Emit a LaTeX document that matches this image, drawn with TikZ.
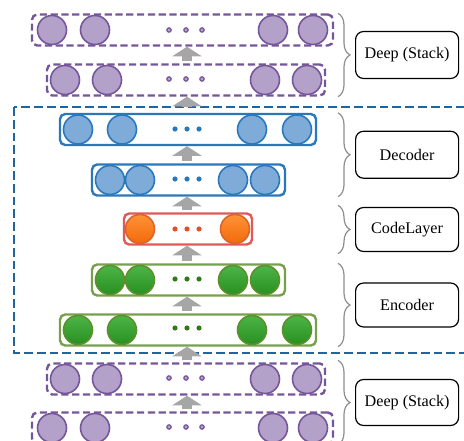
\documentclass[tikz,border=0pt]{standalone}
\usepackage{fontspec}
\setmainfont{Liberation Serif}
\usetikzlibrary{arrows.meta,positioning,decorations.pathreplacing}

\definecolor{purpfill}{HTML}{B3A1C9}
\definecolor{purpline}{HTML}{76569A}
\definecolor{blufill}{HTML}{7FABD8}
\definecolor{bluline}{HTML}{2A78BC}
\definecolor{frameblue}{HTML}{22649E}
\definecolor{orgtop}{HTML}{FF9236}
\definecolor{orgbot}{HTML}{F26A0C}
\definecolor{orgline}{HTML}{D8652E}
\definecolor{codered}{HTML}{E05858}
\definecolor{grntop}{HTML}{4DB548}
\definecolor{grnbot}{HTML}{27901F}
\definecolor{grnline}{HTML}{5F8F2C}
\definecolor{arrgray}{HTML}{A6A6A6}
\definecolor{brcgray}{HTML}{8E8E8E}

\tikzset{
  rowbox/.style={rounded corners=1.3mm, line width=0.6mm, minimum height=7.75mm, inner sep=0pt},
  pbox/.style={rowbox, draw=purpline, dash pattern=on 1.8mm off 0.9mm},
  bbox/.style={rowbox, draw=bluline},
  cbox/.style={rowbox, draw=codered},
  gbox/.style={rowbox, draw=grnline!85!white},
  unit/.style={circle, minimum size=7.25mm, inner sep=0pt, line width=0.4mm},
  punit/.style={unit, draw=purpline, fill=purpfill},
  bunit/.style={unit, draw=bluline, fill=blufill},
  cunit/.style={unit, draw=orgline, top color=orgtop, bottom color=orgbot},
  gunit/.style={unit, draw=grnline, top color=grntop, bottom color=grnbot},
  bigarrow/.style={arrgray, line width=2.3mm, shorten <=0.6mm,
    -{Triangle[width=7.25mm,length=2.4mm]}},
  brc/.style={brcgray, line width=0.3mm, decorate, decoration={brace, amplitude=3mm}},
  lbl/.style={draw=black, text=black, rounded corners=2mm, line width=0.3mm,
    minimum width=25.75mm, inner sep=0pt, font=\fontsize{11.5}{13}\selectfont}
}

\begin{document}
\begin{tikzpicture}[x=0.25mm, y=-0.25mm]
  \useasboundingbox (0,0) rectangle (464,441);
  \clip (0,0) rectangle (464,441);

  % autoencoder frame
  \draw[frameblue, line width=0.5mm, dash pattern=on 2.2mm off 1mm] (14,107) rectangle (480,353);

  % layer boxes
  \node[pbox, minimum width=75.25mm] (p1) at (182.5,30) {};
  \node[pbox, minimum width=69.5mm] (p2) at (186,80) {};
  \node[bbox, minimum width=64mm] (d1) at (188,129.5) {};
  \node[bbox, minimum width=48.25mm] (d2) at (188.5,180) {};
  \node[cbox, minimum width=32mm] (code) at (188,229) {};
  \node[gbox, minimum width=48.25mm] (e1) at (188.5,280) {};
  \node[gbox, minimum width=64mm] (e2) at (188,330) {};
  \node[pbox, minimum width=69.5mm] (p3) at (186,379) {};
  \node[pbox, minimum width=75.25mm] (p4) at (182.5,428) {};

  % units
  \foreach \x [count=\i] in {52,95,273,313} {
    \node[punit] (p1u\i) at (\x,30) {};
    \node[punit] (p4u\i) at (\x,428) {};
  }
  \foreach \x [count=\i] in {65,107,265,307} {
    \node[punit] (p2u\i) at (\x,80) {};
    \node[punit] (p3u\i) at (\x,379) {};
  }
  \foreach \x [count=\i] in {78,122,252,297} {
    \node[bunit] (d1u\i) at (\x,129.5) {};
    \node[gunit] (e2u\i) at (\x,330) {};
  }
  \foreach \x [count=\i] in {110,140,233,265} {
    \node[bunit] (d2u\i) at (\x,180) {};
    \node[gunit] (e1u\i) at (\x,280) {};
  }
  \node[cunit] (cu1) at (140,229) {};
  \node[cunit] (cu2) at (235,229) {};

  % dots
  \foreach \x in {169,186,202} {
    \filldraw[fill=purpfill, draw=purpline, line width=0.3mm] (\x,30) circle (0.55mm);
    \filldraw[fill=purpfill, draw=purpline, line width=0.3mm] (\x,79) circle (0.55mm);
    \filldraw[fill=purpfill, draw=purpline, line width=0.3mm] (\x,378) circle (0.55mm);
    \filldraw[fill=purpfill, draw=purpline, line width=0.3mm] (\x,427) circle (0.55mm);
  }
  \foreach \x in {175,187,199} {
    \fill[bluline] (\x,129) circle (0.65mm);
    \fill[bluline] (\x,179) circle (0.65mm);
    \fill[orgline!80!red] (\x,229) circle (0.65mm);
    \fill[grnline!70!green!70!black] (\x,279) circle (0.65mm);
    \fill[grnline!70!green!70!black] (\x,328) circle (0.65mm);
  }

  % arrows
  \coordinate (ax) at (187,0);
  \draw[bigarrow] (ax |- p2.north) -- (ax |- p1.south);
  \draw[bigarrow, shorten <=1.75mm] (ax |- d1.north) -- (ax |- p2.south);
  \draw[bigarrow] (ax |- d2.north) -- (ax |- d1.south);
  \draw[bigarrow] (ax |- code.north) -- (ax |- d2.south);
  \draw[bigarrow] (ax |- e1.north) -- (ax |- code.south);
  \draw[bigarrow] (ax |- e2.north) -- (ax |- e1.south);
  \draw[bigarrow] (ax |- p3.north) -- (ax |- e2.south);
  \draw[bigarrow] (ax |- p4.north) -- (ax |- p3.south);

  % braces and labels
  \coordinate (bx) at (338,0);
  \draw[brc] (bx |- p1.north) -- (bx |- p2.south)
    node[lbl, midway, right=4.25mm, minimum height=11.75mm] (deep1) {Deep (Stack)};
  \draw[brc] (bx |- d1.north) -- (bx |- d2.south)
    node[lbl, midway, right=4.25mm, minimum height=11.75mm] (dec) {Decoder};
  \draw[brc] ([yshift=1.75mm]bx |- code.north) -- ([yshift=-2mm]bx |- code.south)
    node[lbl, midway, right=4.25mm, minimum height=11mm] (cl) {CodeLayer};
  \draw[brc] (bx |- e1.north) -- (bx |- e2.south)
    node[lbl, midway, right=4.25mm, minimum height=11mm] (enc) {Encoder};
  \draw[brc] ([yshift=0.5mm]bx |- p3.north) -- (bx |- p4.south)
    node[lbl, midway, right=4.25mm, minimum height=11.5mm] (deep2) {Deep (Stack)};
\end{tikzpicture}
\end{document}
